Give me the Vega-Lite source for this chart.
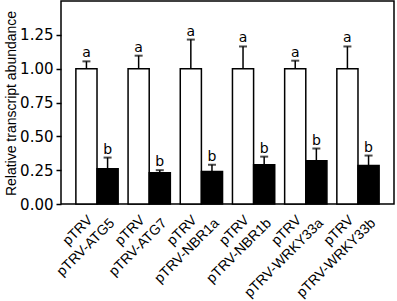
{
  "$schema": "https://vega.github.io/schema/vega-lite/v6.json",
  "width": 333,
  "height": 203,
  "autosize": {"type": "none"},
  "padding": {"left": 61, "top": 1, "right": 3, "bottom": 97},
  "config": {
    "font": "Liberation Sans",
    "view": {"stroke": "black", "strokeWidth": 1.5},
    "axis": {"grid": false, "domain": false}
  },
  "datasets": {
    "bars": [
      {"gene": "ATG5", "line": "pTRV", "mean": 1.0, "upper": 1.054, "letter": "a"},
      {"gene": "ATG5", "line": "silenced", "mean": 0.26, "upper": 0.343, "letter": "b"},
      {"gene": "ATG7", "line": "pTRV", "mean": 1.0, "upper": 1.096, "letter": "a"},
      {"gene": "ATG7", "line": "silenced", "mean": 0.23, "upper": 0.25, "letter": "b"},
      {"gene": "NBR1a", "line": "pTRV", "mean": 1.0, "upper": 1.215, "letter": "a"},
      {"gene": "NBR1a", "line": "silenced", "mean": 0.24, "upper": 0.29, "letter": "b"},
      {"gene": "NBR1b", "line": "pTRV", "mean": 1.0, "upper": 1.164, "letter": "a"},
      {"gene": "NBR1b", "line": "silenced", "mean": 0.29, "upper": 0.35, "letter": "b"},
      {"gene": "WRKY33a", "line": "pTRV", "mean": 1.0, "upper": 1.059, "letter": "a"},
      {"gene": "WRKY33a", "line": "silenced", "mean": 0.32, "upper": 0.41, "letter": "b"},
      {"gene": "WRKY33b", "line": "pTRV", "mean": 1.0, "upper": 1.164, "letter": "a"},
      {"gene": "WRKY33b", "line": "silenced", "mean": 0.285, "upper": 0.358, "letter": "b"}
    ],
    "labels": [
      {"gene": "ATG5", "control": "pTRV", "silenced": "pTRV-ATG5"},
      {"gene": "ATG7", "control": "pTRV", "silenced": "pTRV-ATG7"},
      {"gene": "NBR1a", "control": "pTRV", "silenced": "pTRV-NBR1a"},
      {"gene": "NBR1b", "control": "pTRV", "silenced": "pTRV-NBR1b"},
      {"gene": "WRKY33a", "control": "pTRV", "silenced": "pTRV-WRKY33a"},
      {"gene": "WRKY33b", "control": "pTRV", "silenced": "pTRV-WRKY33b"}
    ]
  },
  "data": {"name": "bars"},
  "layer": [
    {
      "mark": {"type": "bar", "stroke": "black", "strokeWidth": 1.5},
      "encoding": {
        "x": {
          "field": "gene",
          "type": "nominal",
          "sort": null,
          "scale": {"paddingInner": 0.19, "paddingOuter": 0.285},
          "axis": null
        },
        "xOffset": {"field": "line", "type": "nominal", "sort": ["pTRV", "silenced"], "scale": {"paddingInner": 0, "paddingOuter": 0}},
        "y": {
          "field": "mean",
          "type": "quantitative",
          "scale": {"domain": [0, 1.5], "nice": false},
          "axis": {
            "values": [0, 0.25, 0.5, 0.75, 1, 1.25],
            "format": ".2f",
            "tickSize": 5,
            "tickColor": "black",
            "tickWidth": 1.5,
            "labelPadding": 3,
            "labelFont": "DejaVu Sans",
            "labelFontSize": 15,
            "labelColor": "black",
            "title": "Relative transcript abundance",
            "titleFontSize": 14,
            "titleFontWeight": "normal",
            "titleColor": "black",
            "titleAngle": -90,
            "titleX": -46,
            "titleY": 102,
            "titleAlign": "center",
            "titleBaseline": "alphabetic"
          }
        },
        "fill": {"field": "line", "type": "nominal", "scale": {"domain": ["pTRV", "silenced"], "range": ["white", "black"]}, "legend": null}
      }
    },
    {
      "mark": {"type": "rule", "color": "black", "strokeWidth": 1.5},
      "encoding": {
        "x": {"field": "gene", "type": "nominal", "sort": null},
        "xOffset": {"field": "line", "type": "nominal", "sort": ["pTRV", "silenced"]},
        "y": {"field": "mean", "type": "quantitative"},
        "y2": {"field": "upper"}
      }
    },
    {
      "mark": {"type": "tick", "color": "black", "size": 8, "thickness": 2, "orient": "horizontal"},
      "encoding": {
        "x": {"field": "gene", "type": "nominal", "sort": null},
        "xOffset": {"field": "line", "type": "nominal", "sort": ["pTRV", "silenced"]},
        "y": {"field": "upper", "type": "quantitative"}
      }
    },
    {
      "mark": {"type": "text", "font": "DejaVu Sans", "fontSize": 14, "baseline": "alphabetic", "dy": -4, "color": "black"},
      "encoding": {
        "x": {"field": "gene", "type": "nominal", "sort": null},
        "xOffset": {"field": "line", "type": "nominal", "sort": ["pTRV", "silenced"]},
        "y": {"field": "upper", "type": "quantitative"},
        "text": {"field": "letter"}
      }
    },
    {
      "data": {"name": "labels"},
      "mark": {"type": "text", "angle": 315, "align": "right", "baseline": "middle", "fontSize": 14, "dx": -14.5, "dy": 5.3, "color": "black"},
      "encoding": {
        "x": {"field": "gene", "type": "nominal", "sort": null},
        "y": {"datum": 0, "type": "quantitative"},
        "text": {"field": "control"}
      }
    },
    {
      "data": {"name": "labels"},
      "mark": {"type": "text", "angle": 315, "align": "right", "baseline": "middle", "fontSize": 14, "dx": -1.1, "dy": 23, "color": "black"},
      "encoding": {
        "x": {"field": "gene", "type": "nominal", "sort": null},
        "y": {"datum": 0, "type": "quantitative"},
        "text": {"field": "silenced"}
      }
    }
  ]
}
